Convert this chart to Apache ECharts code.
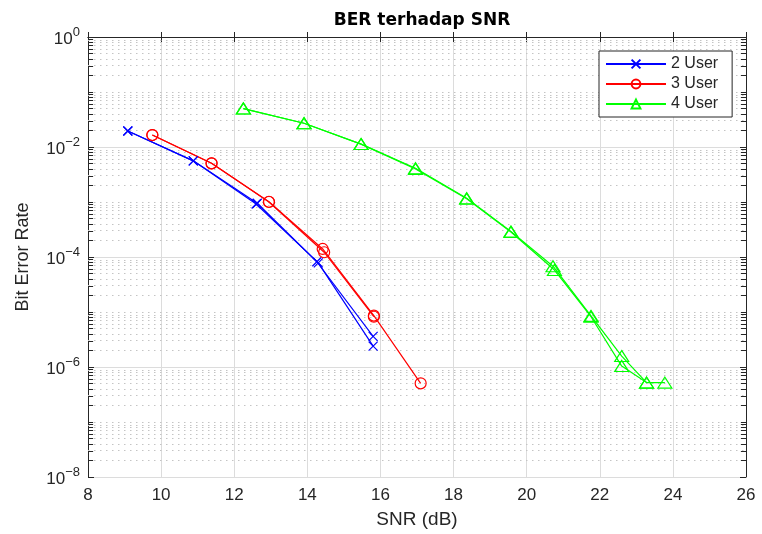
<!DOCTYPE html>
<html>
<head>
<meta charset="utf-8">
<script src="https://cdn.jsdelivr.net/npm/echarts@6/dist/echarts.min.js"></script>
<style>
  html, body { margin: 0; padding: 0; background: #fff; }
  #chart { width: 762px; height: 534px; }
</style>
</head>
<body>
<div id="chart"></div>
<script>
// x axis ticks (dB)
const snrTicks = [8, 10, 12, 14, 16, 18, 20, 22, 24, 26];

// 2 User (two overlapping runs)
const snr2a = [9.09, 10.88, 12.63, 14.26, 15.80];
const ber2a = [1.95e-2, 5.6e-3, 9.5e-4, 8.2e-5, 3.6e-6];
const snr2b = [9.09, 10.88, 12.60, 14.30, 15.80];
const ber2b = [1.95e-2, 5.6e-3, 9.2e-4, 7.8e-5, 2.4e-6];

// 3 User
const snr3a = [9.76, 11.38, 12.95, 14.42, 15.82, 17.10];
const ber3a = [1.65e-2, 5.05e-3, 1.01e-3, 1.40e-4, 8.6e-6, 5.05e-7];
const snr3b = [9.76, 11.38, 12.95, 14.46, 15.82];
const ber3b = [1.65e-2, 5.05e-3, 1.0e-3, 1.22e-4, 8.2e-6];

// 4 User
const snr4a = [12.25, 13.91, 15.47, 16.96, 18.36, 19.57, 20.72, 21.76, 22.60, 23.28];
const ber4a = [5.0e-2, 2.7e-2, 1.13e-2, 4.1e-3, 1.17e-3, 2.9e-4, 6.8e-5, 8.5e-6, 1.58e-6, 5.2e-7];
const snr4b = [12.25, 13.91, 15.47, 16.96, 18.36, 19.57, 20.76, 21.76, 22.60, 23.28, 23.78];
const ber4b = [5.0e-2, 2.7e-2, 1.13e-2, 4.0e-3, 1.15e-3, 2.85e-4, 5.8e-5, 8.2e-6, 1.04e-6, 5.2e-7, 5.2e-7];

const zip = (xs, ys) => xs.map((x, i) => [x, ys[i]]);

const FONT = "Liberation Sans";
const AX = "#262626";
const BLUE = "#0000ff", RED = "#ff0000", GREEN = "#00ff00";

// dotted minor grid + small minor ticks for the log axis, drawn in log10 units
// on a hidden linear axis (2..9 x 10^n and the odd decades)
const minorLines = [];
const tickLen = 0.14; // ~5px in dB units
for (let d = -8; d < 0; d++) {
    const ys = [];
    for (let m = 2; m <= 9; m++) ys.push(d + Math.log10(m));
    if (d % 2 !== 0) ys.push(d);
    ys.forEach(y => {
        minorLines.push({ yAxis: y });
        const tick = { lineStyle: { color: AX, type: "solid", width: 1 } };
        minorLines.push([Object.assign({ coord: [8, y] }, tick), { coord: [8 + tickLen, y] }]);
        minorLines.push([Object.assign({ coord: [26 - tickLen, y] }, tick), { coord: [26, y] }]);
    });
}

const xMark = "path://M0,0L10,10M10,0L0,10";

function lineSeries(name, data, color, symbol, size, filled) {
    return {
        name: name,
        type: "line",
        data: data,
        symbol: symbol,
        symbolSize: size,
        showAllSymbol: true,
        z: 3,
        lineStyle: { color: color, width: 1.2 },
        itemStyle: { color: filled ? color : "transparent", borderColor: color, borderWidth: 1.2 },
        emphasis: { disabled: true },
        animation: false
    };
}

const chart = echarts.init(document.getElementById("chart"));
chart.setOption({
    animation: false,
    title: {
        text: "BER terhadap SNR",
        left: 417, top: 7, textAlign: "center",
        textStyle: { fontFamily: "DejaVu Sans", fontSize: 17, fontWeight: "bold", color: "#000" }
    },
    grid: { left: 88, right: 16, top: 37, bottom: 57 },
    legend: {
        orient: "vertical",
        left: 599, top: 51,
        padding: [5, 14, 5, 6],
        itemWidth: 60, itemHeight: 11, itemGap: 4,
        backgroundColor: "#fff",
        borderColor: AX, borderWidth: 1,
        borderRadius: 0,
        z: 10,
        textStyle: { fontFamily: FONT, fontSize: 16, color: AX },
        data: ["2 User", "3 User", "4 User"]
    },
    xAxis: [{
        type: "value", min: 8, max: 26, interval: 2,
        name: "SNR (dB)", nameLocation: "middle", nameGap: 33,
        nameTextStyle: { fontFamily: FONT, fontSize: 19, color: AX },
        axisLine: { lineStyle: { color: AX, width: 1 } },
        axisTick: { inside: true, length: 5, lineStyle: { color: AX } },
        axisLabel: { fontFamily: FONT, fontSize: 17, color: AX, margin: 10,
            formatter: v => snrTicks.indexOf(v) >= 0 ? String(v) : "" },
        splitLine: { show: true, lineStyle: { color: "#dcdcdc", width: 1 } }
    }, {
        type: "value", min: 8, max: 26, interval: 2, position: "top",
        axisLine: { lineStyle: { color: AX, width: 1 } },
        axisTick: { inside: true, length: 5, lineStyle: { color: AX } },
        axisLabel: { show: false },
        splitLine: { show: false }
    }],
    yAxis: [{
        type: "log", logBase: 10, min: 1e-8, max: 1, interval: 2,
        name: "Bit Error Rate", nameLocation: "middle", nameGap: 56,
        nameTextStyle: { fontFamily: FONT, fontSize: 18, color: AX },
        axisLine: { show: true, lineStyle: { color: AX, width: 1 } },
        axisTick: { show: true, inside: true, length: 6, lineStyle: { color: AX } },
        axisLabel: {
            margin: 8,
            formatter: v => "{b|10}{s|" + String(Math.round(Math.log10(v))).replace("-", "\u2212") + "}",
            rich: {
                b: { fontFamily: FONT, fontSize: 17, color: AX, padding: [4, 0, 0, 0] },
                s: { fontFamily: FONT, fontSize: 13, color: AX, padding: [0, 0, 10, 0] }
            }
        },
        splitLine: { show: true, lineStyle: { color: "#dcdcdc", width: 1 } }
    }, {
        type: "log", logBase: 10, min: 1e-8, max: 1, interval: 2, position: "right",
        axisLine: { show: true, lineStyle: { color: AX, width: 1 } },
        axisTick: { show: true, inside: true, length: 6, lineStyle: { color: AX } },
        axisLabel: { show: false },
        splitLine: { show: false }
    }, {
        type: "value", min: -8, max: 0, show: false
    }],
    series: [
        {
            type: "line", data: [], silent: true, animation: false,
            yAxisIndex: 2, z: 1,
            markLine: {
                silent: true, symbol: "none", animation: false, z: 1,
                label: { show: false },
                emphasis: { disabled: true },
                lineStyle: { color: "#c4c4c4", width: 1, type: [1.5, 4.5] },
                data: minorLines
            }
        },
        lineSeries("2 User", zip(snr2a, ber2a), BLUE, xMark, 9, true),
        lineSeries("2 User", zip(snr2b, ber2b), BLUE, xMark, 9, true),
        lineSeries("3 User", zip(snr3a, ber3a), RED, "circle", 11),
        lineSeries("3 User", zip(snr3b, ber3b), RED, "circle", 11),
        lineSeries("4 User", zip(snr4a, ber4a), GREEN, "triangle", [14, 11]),
        lineSeries("4 User", zip(snr4b, ber4b), GREEN, "triangle", [14, 11])
    ]
});
</script>
</body>
</html>
